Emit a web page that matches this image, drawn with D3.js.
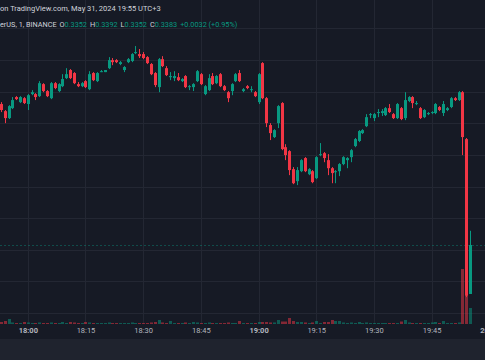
<!DOCTYPE html>
<html><head><meta charset="utf-8">
<script src="https://cdn.jsdelivr.net/npm/d3@7"></script>
<style>html,body{margin:0;padding:0;background:#161a25;overflow:hidden}svg{display:block}</style>
</head><body><svg id="c" width="485" height="360"></svg>
<script>
// ---- data (1-minute candles from 17:53 to 19:55, UTC+3) ----
const startTime = "2024-05-31T17:53:00";
const opens = [.34722,.34677,.34633,.34696,.34766,.34734,.34759,
 .34722,.34785,.34785,.34772,.34848,.34804,.34759,.34854,.34804,.34835,.34886,.34937,.34918,.34848,.34835,
 .34867,.34816,.34918,.34867,.34924,.34924,.34949,.35,.35,.34975,.34937,.34987,.34994,.35044,.35038,
 .35038,.35019,.34975,.34918,.34829,.35006,.34949,.34892,.34886,.34892,.34867,.34899,.34829,.34829,.34867,
 .34911,.34785,.3481,.34899,.34854,.34911,.34835,.34797,.34804,.34867,.34918,.34804,.34835,.3481,.34797,
 .34734,.34981,.34759,.34589,.34513,.34601,.34728,.34449,.34424,.3431,.34234,.34297,.3438,.34278,.34297,
 .34253,.34399,.34411,.34367,.34316,.34291,.34297,.34342,.34367,.34386,.34456,.34488,.34538,.34582,.34652,
 .34633,.34665,.34665,.34652,.34696,.34658,.34633,.34696,.34633,.34741,.34766,.34722,.34696,.34639,.34658,
 .34665,.34665,.34703,.34665,.34684,.34703,.34759,.34747,.34797,.345,.3352];
const highs = [.34734,.34684,.34715,.34766,.34772,.34772,.34766,
 .34785,.3481,.34791,.34867,.34854,.3481,.34861,.34861,.34854,.34911,.34949,.34943,.34924,.34861,.34861,
 .34873,.3493,.34924,.34924,.34937,.34937,.35019,.35013,.35006,.34994,.34962,.35013,.35044,.35089,.3507,
 .35051,.35025,.34981,.34924,.35013,.35025,.34962,.34924,.3493,.34918,.34886,.34905,.34842,.34854,.34937,
 .34918,.34842,.34911,.34918,.34905,.34918,.34842,.34804,.34854,.34918,.34937,.34823,.34842,.34835,.34804,
 .34918,.34987,.34766,.34601,.34563,.34715,.34734,.34468,.3443,.34323,.34323,.34373,.34386,.34316,.34304,
 .34392,.34475,.34418,.34405,.34323,.34304,.34348,.34392,.34386,.34437,.34507,.34557,.34563,.34658,.34665,
 .34665,.3469,.3469,.34703,.34722,.34665,.34728,.34703,.34797,.34772,.34772,.34741,.34703,.3469,.34671,
 .34677,.34728,.34709,.34741,.34703,.34766,.34766,.34804,.34804,.34507,.3392];
const lows = [.34671,.34601,.34627,.3469,.34747,.34728,.34722,
 .34684,.34778,.34747,.34766,.34797,.34766,.34753,.34816,.34797,.34829,.3488,.3488,.34848,.34829,.34829,
 .34823,.3481,.34867,.34861,.34924,.34924,.34943,.34968,.34981,.34968,.34924,.34981,.34987,.35038,.35013,
 .35006,.34975,.34905,.34829,.34797,.34956,.34899,.34873,.34867,.34867,.34861,.34823,.3481,.34804,.34861,
 .34842,.34778,.34804,.34842,.34848,.34829,.34804,.34734,.34778,.34861,.34861,.34797,.34816,.34797,.34766,
 .34722,.34753,.34576,.34494,.34507,.3457,.3443,.34367,.34272,.34215,.34209,.34291,.34291,.34272,.34221,
 .34247,.34392,.34354,.34272,.34221,.34221,.34266,.34335,.34316,.34354,.34449,.34481,.34532,.34576,.34633,
 .34614,.34639,.34646,.34646,.34665,.34627,.34627,.3462,.3462,.34734,.34696,.34715,.34627,.34633,.34652,
 .34658,.34658,.34677,.34646,.34677,.34696,.34741,.34741,.34399,.335,.3352];
const closes = [.34684,.34633,.34709,.34747,.34753,.34766,.34728,
 .34778,.34797,.34766,.34854,.34804,.34772,.34854,.34823,.34848,.3488,.34911,.34886,.34854,.34835,.34854,
 .34829,.34911,.34873,.34918,.3493,.34937,.35,.34987,.34987,.34987,.34956,.35006,.35038,.35051,.35025,
 .35013,.34981,.34911,.34842,.35006,.34962,.34905,.34899,.34899,.34873,.3488,.34829,.34835,.34848,.3493,
 .34848,.34835,.34886,.34848,.34899,.34835,.3481,.34759,.34848,.34911,.34867,.34816,.34823,.34816,.34772,
 .34911,.34759,.34601,.34538,.34557,.34709,.34437,.34399,.34304,.34221,.34304,.34367,.34297,.3431,.34228,
 .34386,.34405,.3438,.34316,.34285,.34297,.34342,.34386,.3438,.3443,.345,.34551,.34557,.34639,.34658,
 .34658,.34671,.34677,.34696,.34671,.34633,.34722,.34627,.34747,.34766,.34728,.34728,.34633,.34684,.34665,
 .34671,.34722,.34684,.34722,.34696,.34759,.34747,.34797,.34513,.3351,.3383];
const volumes = [50,75,125,38,25,25,50,
 38,25,25,38,25,25,38,25,25,50,25,50,38,25,25,
 50,38,25,25,25,25,38,25,25,25,25,25,38,25,25,
 25,25,38,50,100,38,25,75,25,25,25,38,25,50,38,
 25,25,38,25,25,25,25,38,25,25,75,25,25,25,25,
 50,50,50,38,38,100,62,62,150,75,50,50,38,25,38,
 75,25,50,50,100,75,75,38,25,38,25,50,25,38,25,
 25,25,25,25,25,25,25,62,100,38,25,25,25,25,25,
 38,50,25,75,25,25,25,38,1375,2000,400];
const tickLabels = ["18:00","18:15","18:30","18:45","19:00","19:15","19:30","19:45","20:00"];
const priceGrid = [0.334,0.336,0.338,0.340,0.342,0.344,0.346,0.348,0.350,0.352];
const headerLine1 = "on TradingView.com, May 31, 2024 19:55 UTC+3";
const symbolText = "erUS, 1, BINANCE";
const ohlcLabels = ["O","H","L","C"];
const ohlcValues = ["0.3352","0.3392","0.3352","0.3383"];
const changeText = "+0.0032 (+0.95%)";

// ---- drawing ----
const W = 485, H = 360;
const GREEN = "#089981", RED = "#f23645";
const svg = d3.select("#c");
const t0 = new Date(startTime);
const candles = opens.map((o, i) => ({
  t: new Date(t0.getTime() + i * 60000),
  o, h: highs[i], l: lows[i], c: closes[i], v: volumes[i]
}));

const x = d3.scaleTime()
  .domain([new Date("2024-05-31T18:00:00"), new Date("2024-05-31T20:00:00")])
  .range([27.8, 489.3]);
const y = d3.scaleLinear().domain([0.3383, 0.3500]).range([245, 60.1]);
const yv = d3.scaleLinear().domain([0, 2500]).range([324, 224]);

svg.append("rect").attr("width", W).attr("height", H).attr("fill", "#161a25");
svg.append("rect").attr("y", 339).attr("width", W).attr("height", H - 339).attr("fill", "#1f232e");

const tickDates = tickLabels.map(s => new Date("2024-05-31T" + s + ":00"));

// grid
const grid = svg.append("g").attr("stroke", "#232733").attr("stroke-width", 1);
grid.selectAll("line.v").data(tickDates).join("line")
  .attr("x1", d => Math.round(x(d)) + 0.5).attr("x2", d => Math.round(x(d)) + 0.5)
  .attr("y1", 0).attr("y2", 324);
grid.selectAll("line.h").data(priceGrid).join("line")
  .attr("x1", 0).attr("x2", W)
  .attr("y1", d => Math.round(y(d)) + 0.5).attr("y2", d => Math.round(y(d)) + 0.5);

// volume
const bw = 3;
svg.append("g").selectAll("rect").data(candles).join("rect")
  .attr("x", d => Math.round(x(d.t)) - 1)
  .attr("width", bw)
  .attr("y", d => yv(d.v))
  .attr("height", d => yv(0) - yv(d.v))
  .attr("fill", d => d.c >= d.o ? GREEN : RED)
  .attr("fill-opacity", 0.5);

// last price line
const last = candles[candles.length - 1];
svg.append("line")
  .attr("x1", 0).attr("x2", W)
  .attr("y1", Math.round(y(last.c)) + 0.5).attr("y2", Math.round(y(last.c)) + 0.5)
  .attr("stroke", GREEN).attr("stroke-opacity", 0.4).attr("stroke-dasharray", "2,2");

// candles
const cg = svg.append("g");
cg.selectAll("line").data(candles).join("line")
  .attr("x1", d => Math.round(x(d.t)) + 0.5).attr("x2", d => Math.round(x(d.t)) + 0.5)
  .attr("y1", d => y(d.h)).attr("y2", d => y(d.l))
  .attr("stroke", d => d.c >= d.o ? GREEN : RED).attr("stroke-width", 1);
cg.selectAll("rect").data(candles).join("rect")
  .attr("x", d => Math.round(x(d.t)) - 1)
  .attr("width", bw)
  .attr("y", d => Math.min(y(d.o), y(d.c)))
  .attr("height", d => Math.max(1, Math.abs(y(d.o) - y(d.c))))
  .attr("fill", d => d.c >= d.o ? GREEN : RED);

// time axis
const axis = d3.axisBottom(x).tickValues(tickDates)
  .tickFormat((d, i) => tickLabels[i]).tickSize(0).tickPadding(0);
const ax = svg.append("g").attr("transform", "translate(0,328)").call(axis);
ax.select(".domain").remove();
ax.selectAll("text")
  .attr("fill", "#b2b5be")
  .attr("font-family", "Roboto, sans-serif")
  .attr("font-size", "7.5px")
  .attr("font-weight", (d, i) => tickLabels[i].endsWith(":00") ? 700 : 400)
  .attr("dy", "0.71em");

// header
svg.append("text").attr("x", 0).attr("y", 11)
  .attr("font-family", "Roboto, sans-serif").attr("font-size", "7.5px")
  .attr("fill", "#d1d4dc").text(headerLine1);
const h2 = svg.append("text").attr("x", 0).attr("y", 26.5)
  .attr("font-family", "Roboto, sans-serif").attr("font-size", "7.3px");
h2.append("tspan").attr("fill", "#d1d4dc").text(symbolText + " ");
ohlcLabels.forEach((lab, i) => {
  h2.append("tspan").attr("fill", "#d1d4dc").attr("dx", i ? 3 : 1).text(lab);
  h2.append("tspan").attr("fill", GREEN).text(ohlcValues[i]);
});
h2.append("tspan").attr("fill", GREEN).attr("dx", 3).text(changeText);
</script>
</body></html>
